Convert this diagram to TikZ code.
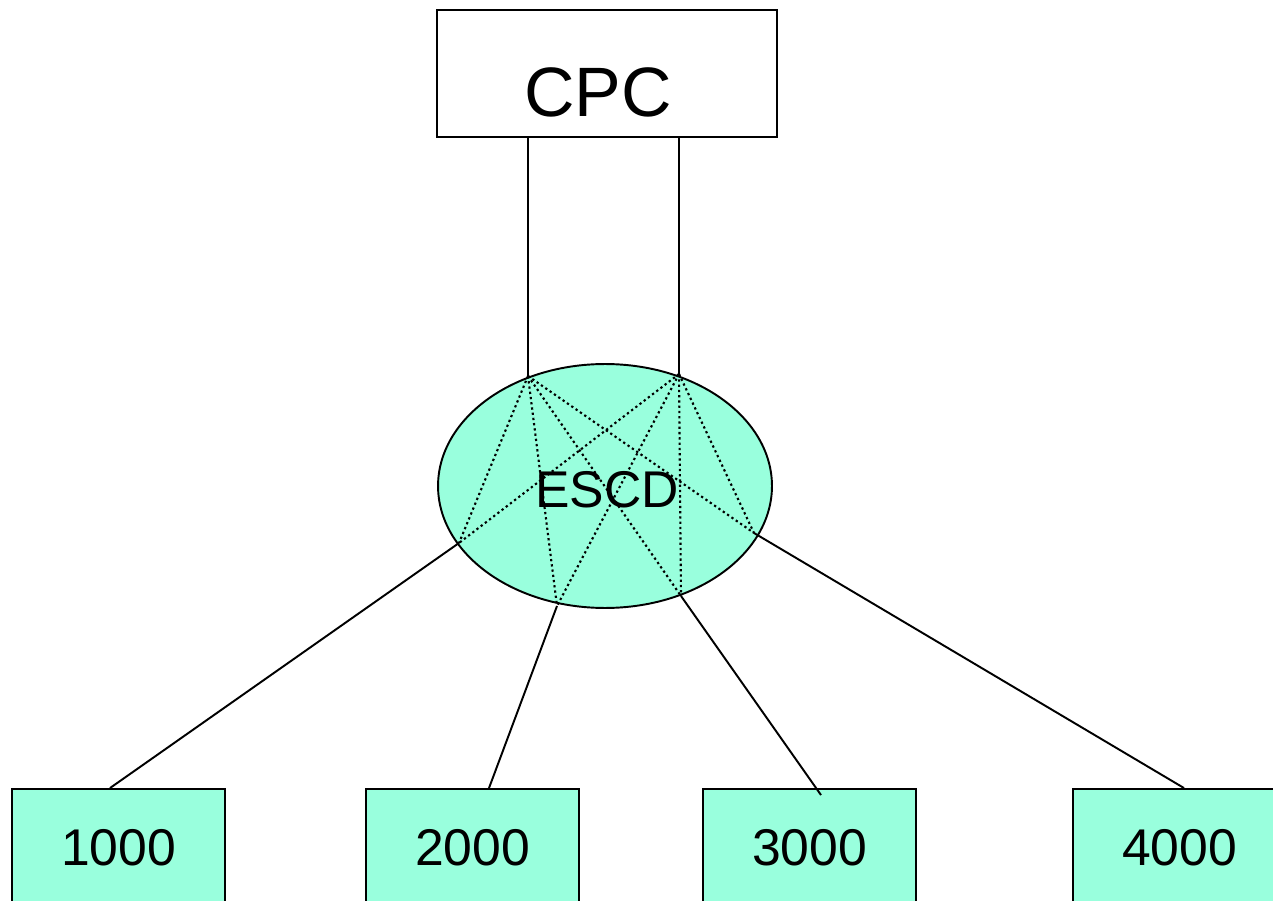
\documentclass[tikz,border=0pt]{standalone}
\usepackage{fontspec}
\setmainfont{Liberation Sans}
\usepackage{tikz}
\usetikzlibrary{shapes.geometric}
\definecolor{mint}{RGB}{153,255,221}
\tikzset{unitbox/.style={rectangle, draw, fill=mint, line width=1.1pt, minimum width=4.26cm, minimum height=2.36cm, inner sep=0pt, font=\fontsize{29.4}{34}\selectfont}}
\tikzset{hostbox/.style={rectangle, draw, fill=white, line width=1.1pt, minimum width=6.8cm, minimum height=2.54cm, inner sep=0pt}}
\tikzset{switch/.style={ellipse, draw, fill=mint, line width=1.1pt, minimum width=6.68cm, minimum height=4.88cm, inner sep=0pt, font=\fontsize{29.4}{34}\selectfont}}
\tikzset{link/.style={line width=1.1pt}}
\tikzset{path/.style={line width=1.2pt, dash pattern=on 1.3pt off 1.7pt}}

\begin{document}
\begin{tikzpicture}[x=0.02cm,y=-0.02cm]
		\useasboundingbox (0,0) rectangle (1273,901);
		\clip (0,0) rectangle (1273,901);
		\node[hostbox] (cpc) at (607,73.5) {};
		\node[inner sep=0pt, font=\fontsize{39.8}{46}\selectfont] (cpclabel) at (598,92) {CPC};
		\node[switch] (escd) at (605,486) {};
		\node[inner sep=0pt, font=\fontsize{29.4}{34}\selectfont] (escdlabel) at (607,490) {ESCD};
		\node[unitbox] (n1000) at (118.5,848) {1000};
		\node[unitbox] (n2000) at (472.5,848) {2000};
		\node[unitbox] (n3000) at (809.5,848) {3000};
		\node[unitbox] (n4000) at (1179.5,848) {4000};
		% ports on the switch
		\coordinate (tl) at (528,376);
		\coordinate (tr) at (679,374);
		\coordinate (b1) at (459,543);
		\coordinate (b2) at (557,606);
		\coordinate (b3) at (681,596);
		\coordinate (b4) at (754,533);
		\foreach \t in {tl,tr}
			\foreach \b in {b1,b2,b3,b4}
				\draw[path] (\t) -- (\b);
		\draw[link] (cpc.south -| tl) -- (tl);
		\draw[link] (cpc.south -| tr) -- (tr);
		\draw[link] (b1) -- ([xshift=-0.17cm]n1000.north);
		\draw[link] (b2) -- ([xshift=0.33cm]n2000.north);
		\draw[link] (b3) -- ([xshift=0.23cm,yshift=-0.14cm]n3000.north);
		\draw[link] (b4) -- ([xshift=0.09cm]n4000.north);
		\end{tikzpicture}
\end{document}
